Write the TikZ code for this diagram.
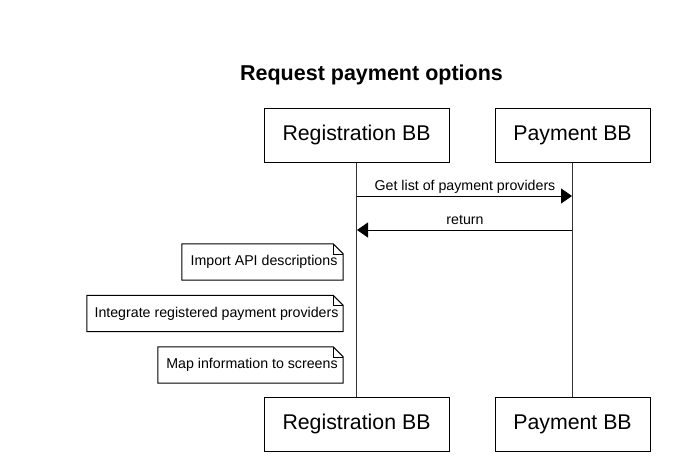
\documentclass[tikz,border=0pt]{standalone}
\usepackage{fontspec}
\setmainfont{Liberation Sans}
\usetikzlibrary{arrows.meta}
\begin{document}
\begin{tikzpicture}[x=1pt,y=-1pt,
  actor/.style={draw=black,line width=1pt,fill=white,inner sep=0pt,minimum height=54pt,font=\fontsize{21.3}{24}\selectfont},
  notebox/.style={inner sep=0pt,minimum height=36pt,font=\fontsize{14.2}{16}\selectfont},
  msg/.style={line width=1pt,-{Triangle[length=11pt,width=15pt]}},
  lbl/.style={font=\fontsize{14.2}{16}\selectfont,inner sep=0pt},
  life/.style={line width=1pt,draw=black!80}]
\useasboundingbox[fill=white] (0,0) rectangle (690,463);
\node[font=\bfseries\fontsize{21.5}{24}\selectfont,inner sep=0pt] (title) at (371.5,75) {Request payment options};
\node[actor,minimum width=185pt] (regT) at (356.5,135) {Registration BB};
\node[actor,minimum width=155pt] (payT) at (572.5,135) {Payment BB};
\node[actor,minimum width=185pt] (regB) at (356.5,424) {Registration BB};
\node[actor,minimum width=155pt] (payB) at (572.5,424) {Payment BB};
\draw[life] (regT.south) -- (regB.north);
\draw[life] (payT.south) -- (payB.north);
\coordinate (m1s) at (357,196);
\coordinate (m1e) at (572,196);
\coordinate (m2s) at (572,230);
\coordinate (m2e) at (357,230);
\draw[msg] (m1s) -- (m1e);
\draw[msg] (m2s) -- (m2e);
\node[lbl] (l1) at (465,187) {Get list of payment providers};
\node[lbl] (l2) at (465,220) {return};
\node[notebox,minimum width=161pt] (n1) at (262.5,262) {\hspace*{3pt}Import API descriptions};
\node[notebox,minimum width=256pt] (n2) at (215,313.5) {\hspace*{3pt}Integrate registered payment providers};
\node[notebox,minimum width=185pt] (n3) at (250.5,365) {\hspace*{3pt}Map information to screens};
\foreach \n in {n1,n2,n3}{
  \draw[line width=1pt] (\n.south west) -- (\n.north west) -- ([xshift=-10pt]\n.north east) -- ([yshift=-10pt]\n.north east) -- (\n.south east) -- cycle;
  \draw[line width=0.6pt] ([xshift=-10pt]\n.north east) -- ([xshift=-10pt,yshift=-10pt]\n.north east) -- ([yshift=-10pt]\n.north east);
}
\end{tikzpicture}
\end{document}
